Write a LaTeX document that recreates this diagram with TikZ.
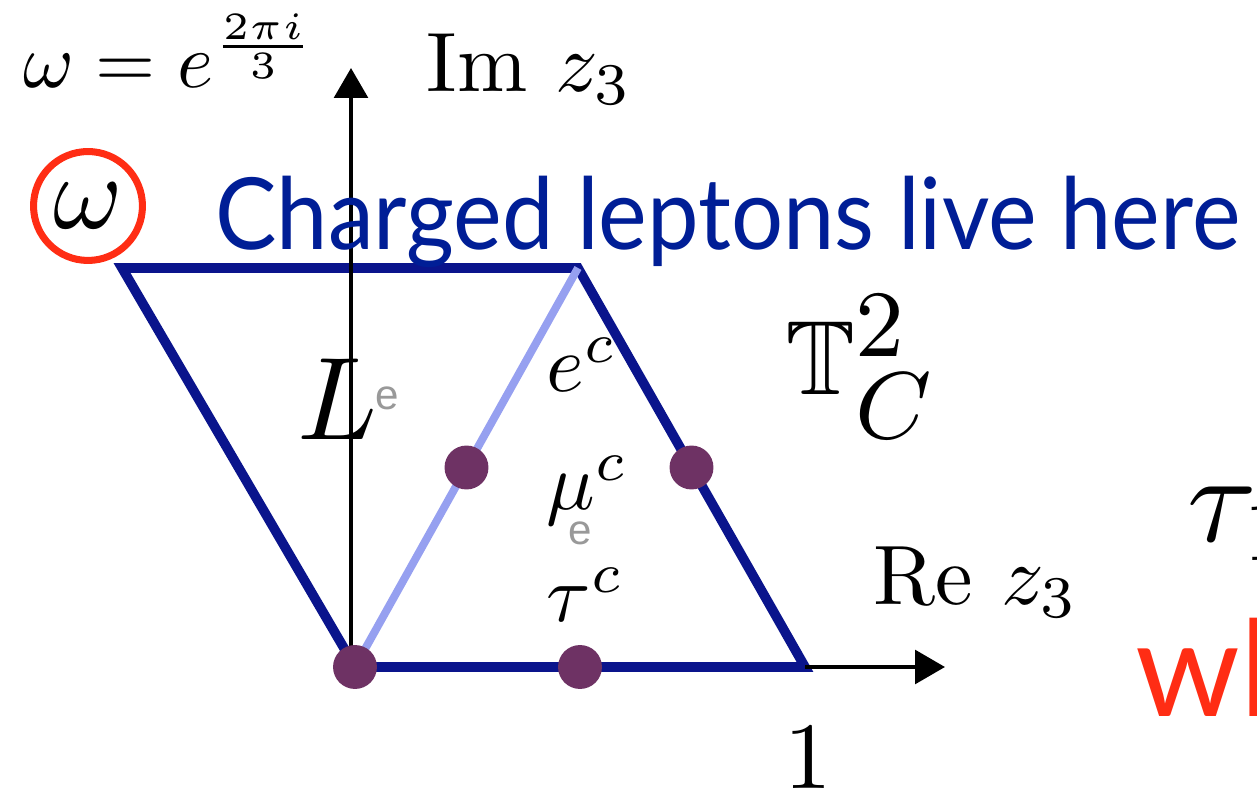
\documentclass[tikz,border=0pt]{standalone}
\usepackage{amsmath,amssymb}
\usepackage{fontspec}
\usetikzlibrary{arrows.meta,calc}
\newfontfamily\gillfont{Lato}
\newfontfamily\grayfont{Liberation Sans}
\definecolor{lattblue}{RGB}{10,20,140}
\definecolor{lightline}{RGB}{150,160,240}
\definecolor{dotpurple}{RGB}{110,50,100}
\definecolor{circred}{RGB}{255,45,20}
\definecolor{textblue}{RGB}{0,30,150}
\tikzset{
  edge/.style={line width=5.5pt, lattblue, line join=miter},
  axisline/.style={-{Triangle[length=17pt,width=19pt]}, line width=2.5pt, black},
  fixpt/.style={circle, fill=dotpurple, inner sep=0pt, minimum size=25pt},
  mlabel/.style={inner sep=0pt, anchor=base west},
  graye/.style={text=black!40, font=\grayfont\fontsize{24}{24}\selectfont, inner sep=0pt},
}

\begin{document}
\begin{tikzpicture}[x=0.02cm, y=0.02cm]
    \useasboundingbox (0,0) rectangle (1257,794);
    \clip (0,0) rectangle (1257,794);

    % lattice corners
    \coordinate (O) at (355,127);
    \coordinate (one) at (805,127);
    \coordinate (w) at (122,526);
    \coordinate (wone) at (578,526);
    \coordinate (imtip) at (351,726);
    \coordinate (retip) at (945,127);

    \draw[edge] (w) -- (wone) -- (one) -- (O) -- cycle;
    \draw[line width=4.5pt, lightline] (O) -- (wone);
    \draw[axisline] (351,120) -- (imtip);
    \draw[axisline] (one) -- (retip);

    % fixed points
    \node[fixpt] (p0) at (O) {};
    \node[fixpt] (p1) at ($(O)!0.5!(one)$) {};
    \node[fixpt] (p2) at ($(O)!0.5!(wone)$) {};
    \node[fixpt] (p3) at ($(one)!0.5!(wone)$) {};

    % labels
    \node[mlabel, scale=4.4] (def) at (22,706) {$\omega = e^{\frac{2\pi i}{3}}$};
    \node[mlabel, scale=4.8] (imlab) at (425,702) {$\mathrm{Im}\ z_3$};
    \node[mlabel, scale=4.8] (relab) at (872,189) {$\mathrm{Re}\ z_3$};
    \node[circle, draw=circred, line width=4pt, minimum size=62pt, inner sep=0pt] (wc) at (88,588) {};
    \node[scale=6, inner sep=0pt] (wlab) at (wc) {$\omega$};
    \node[mlabel, xscale=0.97, yscale=1.05, text=textblue, font=\gillfont\fontsize{54}{60}\selectfont] (title) at (215,544) {Charged leptons live here};
    \node[mlabel, scale=6.7] (Llab) at (295,354) {$L$};
    \node[graye] (Le) at (387,396) {e};
    \node[mlabel, scale=4.6] (ec) at (545,402) {$e^c$};
    \node[mlabel, scale=4.6] (muc) at (545,284) {$\mu^c$};
    \node[graye] (mue) at (580,261) {e};
    \node[mlabel, scale=4.6] (tauc) at (545,172) {$\tau^c$};
    \node[mlabel, scale=6] (torus) at (783,399) {$\mathbb{T}^{\text{\small$2$}}_{\text{\small$C$}}$};
    \node[mlabel, scale=5.4] (unit) at (783,5) {$1$};
    \node[mlabel, scale=7.2] (tau) at (1185,252) {$\tau_1$};
    \node[mlabel, text=circred, font=\gillfont\fontsize{76}{80}\selectfont] (wh) at (1135,77) {wh};
\end{tikzpicture}
\end{document}
